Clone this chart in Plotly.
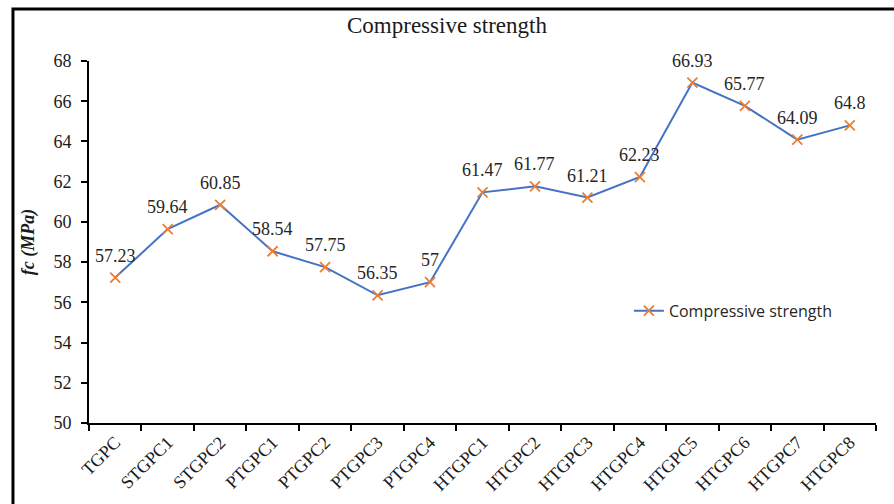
import plotly.graph_objects as go

# Mix designations and measured compressive strength (MPa)
mixes = ["TGPC", "STGPC1", "STGPC2", "PTGPC1", "PTGPC2", "PTGPC3", "PTGPC4",
         "HTGPC1", "HTGPC2", "HTGPC3", "HTGPC4", "HTGPC5", "HTGPC6", "HTGPC7", "HTGPC8"]
strength = [57.23, 59.64, 60.85, 58.54, 57.75, 56.35, 57,
            61.47, 61.77, 61.21, 62.23, 66.93, 65.77, 64.09, 64.8]
value_labels = ["57.23", "59.64", "60.85", "58.54", "57.75", "56.35", "57",
                "61.47", "61.77", "61.21", "62.23", "66.93", "65.77", "64.09", "64.8"]
y_ticks = [50, 52, 54, 56, 58, 60, 62, 64, 66, 68]

SERIF = "Liberation Serif, Times New Roman, serif"

fig = go.Figure()
fig.add_trace(go.Scatter(
    x=mixes, y=strength, mode="lines+markers", name="Compressive strength",
    line=dict(color="#4472C4", width=2),
    marker=dict(symbol="x-thin", size=10, line=dict(color="#ED7D31", width=1.8),
                color="#ED7D31"),
))

# value labels above each point
for m, v, t in zip(mixes, strength, value_labels):
    fig.add_annotation(x=m, y=v, text=t, showarrow=False, yshift=22,
                       font=dict(family=SERIF, size=18, color="#262626"))

fig.update_layout(
    width=894, height=504,
    margin=dict(l=89, r=18, t=61, b=81, autoexpand=False),
    paper_bgcolor="white", plot_bgcolor="white",
    title=dict(text="Compressive strength", x=0.5, xref="container", y=0.95, yref="container",
               xanchor="center", yanchor="middle",
               font=dict(family=SERIF, size=23, color="#1a1a1a")),
    showlegend=True,
    legend=dict(x=0.686, y=0.31, xanchor="left", yanchor="middle",
                bgcolor="rgba(0,0,0,0)",
                font=dict(family="Open Sans, sans-serif", size=16, color="#262626")),
    shapes=[dict(type="rect", xref="paper", yref="paper",
                 x0=-0.0966, x1=1.2, y0=-0.5, y1=1.1436,
                 line=dict(color="black", width=3), fillcolor="rgba(0,0,0,0)")],
)

fig.update_xaxes(
    type="category", range=[-0.5, 14.5], tickangle=-45, tickson="boundaries",
    ticks="outside", ticklen=6, tickwidth=1.5, tickcolor="black",
    showline=True, linecolor="black", linewidth=1.8, showgrid=False, automargin=False,
    tickfont=dict(family=SERIF, size=18, color="#1a1a1a"),
)
fig.update_yaxes(
    range=[50, 68], tickvals=y_ticks, ticks="outside", ticklen=6, tickwidth=1.5,
    tickcolor="black", showline=True, linecolor="black", linewidth=1.8,
    showgrid=False, zeroline=False, ticklabelstandoff=6, automargin=False,
    tickfont=dict(family=SERIF, size=18, color="#1a1a1a"),
    title=dict(text="<b><i>fc (MPa)</i></b>", standoff=14,
               font=dict(family=SERIF, size=18, color="#1a1a1a")),
)

fig.write_html("out.html")
